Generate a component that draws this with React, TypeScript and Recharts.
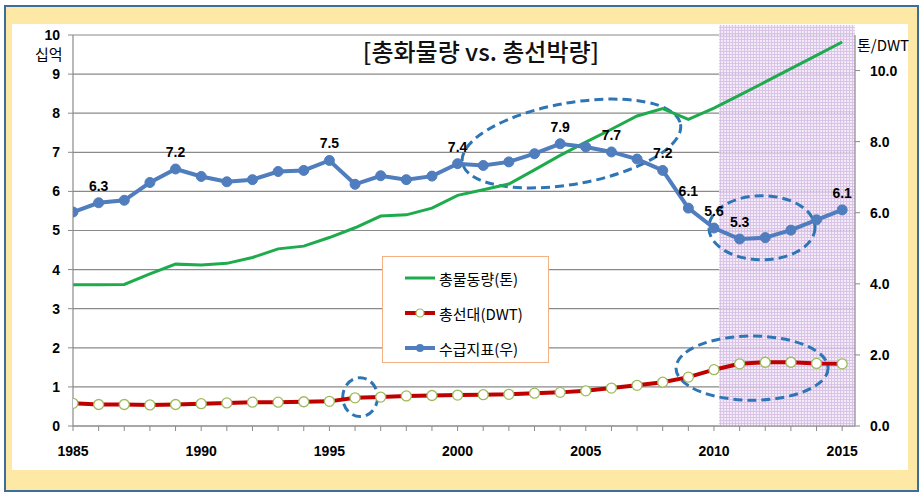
import React from "react";
import {
  ComposedChart,
  Line,
  XAxis,
  YAxis,
  CartesianGrid,
  ReferenceArea,
  LabelList,
} from "recharts";

// categories
const years = [
  1985, 1986, 1987, 1988, 1989, 1990, 1991, 1992, 1993, 1994, 1995, 1996, 1997, 1998, 1999, 2000,
  2001, 2002, 2003, 2004, 2005, 2006, 2007, 2008, 2009, 2010, 2011, 2012, 2013, 2014, 2015,
];

// 총물동량 (십억 톤, left axis)
const cargo = [
  3.61, 3.61, 3.62, 3.89, 4.14, 4.12, 4.16, 4.31, 4.53, 4.6, 4.82, 5.07, 5.37, 5.4, 5.57, 5.9,
  6.04, 6.19, 6.55, 6.92, 7.26, 7.59, 7.93, 8.12, 7.84, 8.13, 8.46, 8.8, 9.14, 9.48, 9.82,
];

// 총선대 (십억 DWT, left axis)
const fleet = [
  0.58, 0.55, 0.55, 0.54, 0.55, 0.57, 0.59, 0.61, 0.61, 0.62, 0.63, 0.72, 0.74, 0.77, 0.78, 0.79,
  0.8, 0.81, 0.84, 0.86, 0.9, 0.97, 1.04, 1.12, 1.25, 1.44, 1.59, 1.63, 1.63, 1.6, 1.59,
];

// 수급지표 (톤/DWT, right axis)
const ratio = [
  6.02, 6.28, 6.35, 6.85, 7.23, 7.02, 6.87, 6.93, 7.16, 7.19, 7.47, 6.8, 7.04, 6.93, 7.03, 7.38,
  7.33, 7.43, 7.66, 7.94, 7.85, 7.71, 7.51, 7.19, 6.13, 5.57, 5.26, 5.3, 5.51, 5.8, 6.08,
];

const labeledYears = [1986, 1989, 1995, 2000, 2004, 2006, 2008, 2009, 2010, 2011, 2015];

const leftTicks = [0, 1, 2, 3, 4, 5, 6, 7, 8, 9, 10];
const rightTicks = [0, 2, 4, 6, 8, 10];

const series = [
  { key: "cargo", name: "총물동량(톤)", color: "#1EAB4D", marker: "none" },
  { key: "fleet", name: "총선대(DWT)", color: "#C00000", marker: "open" },
  { key: "ratio", name: "수급지표(우)", color: "#4F7DBD", marker: "filled" },
];

// forecast shading and dashed ovals, in data units
const forecastFrom = 2010.2;
const forecastTo = 2015.5;
const ovals = [
  { x1: 2000.12, x2: 2008.76, y1: 6.185, y2: 8.265, angle: -10 },
  { x1: 1995.52, x2: 1996.88, y1: 0.24, y2: 1.235, angle: 0 },
  { x1: 2009.8, x2: 2013.94, y1: 4.25, y2: 5.89, angle: 0 },
  { x1: 2008.52, x2: 2014.45, y1: 0.66, y2: 2.3, angle: 0 },
];

const data = years.map((year, i) => ({
  year,
  cargo: cargo[i],
  fleet: fleet[i],
  ratio: ratio[i],
}));

const tickFont = { fontFamily: "'Liberation Sans', Arial, sans-serif", fontSize: 14, fontWeight: 700, fill: "#000" };
const krFont = "'Noto Sans CJK KR', 'Noto Sans', sans-serif";

const ShadeShape = (props: any) => {
  const { x, y, width, height } = props;
  return (
    <g>
      <defs>
        <pattern id="dots" width="3" height="3" patternUnits="userSpaceOnUse">
          <rect width="3" height="3" fill="#F1E7F6" />
          <rect width="3" height="1" fill="#D2B8E1" />
          <rect width="1" height="3" fill="#D2B8E1" />
        </pattern>
      </defs>
      <rect x={x} y={y - 10} width={width} height={height + 10} fill="url(#dots)" opacity={0.85} />
    </g>
  );
};

const makeOval = (angle: number) => (props: any) => {
  const { x, y, width, height } = props;
  const cx = x + width / 2;
  const cy = y + height / 2;
  return (
    <ellipse
      cx={cx}
      cy={cy}
      rx={width / 2}
      ry={height / 2}
      fill="none"
      stroke="#2E75B6"
      strokeWidth={3}
      strokeDasharray="9 5"
      transform={`rotate(${angle} ${cx} ${cy})`}
    />
  );
};

const RatioLabel = (props: any) => {
  const { x, y, index } = props;
  if (!labeledYears.includes(years[index])) return null;
  return (
    <text x={x} y={y - 12} textAnchor="middle" {...tickFont}>
      {ratio[index].toFixed(1)}
    </text>
  );
};

function LegendBox() {
  return (
    <div
      style={{
        position: "absolute",
        left: 382,
        top: 256,
        width: 165,
        height: 105,
        border: "1px solid #F4B183",
        background: "#fff",
        fontFamily: krFont,
        fontSize: 15,
        color: "#000",
      }}
    >
      {series.map((s, i) => (
        <div
          key={s.key}
          style={{ position: "absolute", left: 22, top: 10 + i * 35, height: 22, display: "flex", alignItems: "center" }}
        >
          <svg width={32} height={12}>
            <line x1={0} y1={6} x2={30} y2={6} stroke={s.color} strokeWidth={s.key === "cargo" ? 3 : 4} />
            {s.marker === "open" && <circle cx={15} cy={6} r={4} fill="#fff" stroke="#9BBB59" strokeWidth={1.2} />}
            {s.marker === "filled" && <circle cx={15} cy={6} r={4} fill={s.color} />}
          </svg>
          <span style={{ marginLeft: 2 }}>{s.name}</span>
        </div>
      ))}
    </div>
  );
}

export default function App() {
  return (
    <div style={{ position: "relative", width: 922, height: 499, background: "#fff", overflow: "hidden" }}>
      <style>{`body{margin:0}`}</style>
      <div
        style={{
          position: "absolute",
          left: 4,
          top: 5,
          width: 911,
          height: 483,
          border: "2px solid #3D6E9B",
          background: "#FDE8A6",
        }}
      />
      <div style={{ position: "absolute", left: 12, top: 24, width: 896, height: 446, background: "#fff" }} />
      <div style={{ position: "absolute", left: 0, top: 0 }}>
        <ComposedChart
          width={922}
          height={499}
          data={data}
          margin={{ top: 35, right: 17, bottom: 43, left: 13 }}
        >
          <CartesianGrid yAxisId="L" vertical={false} stroke="#8A8A8A" strokeWidth={1.2} />
          <ReferenceArea
            yAxisId="L"
            x1={forecastFrom}
            x2={forecastTo}
            y1={0}
            y2={10}
            shape={ShadeShape}
            ifOverflow="visible"
          />
          <XAxis
            dataKey="year"
            type="number"
            domain={[1985, forecastTo]}
            ticks={years}
            interval={0}
            tickFormatter={(v: number) => (v % 5 === 0 ? String(v) : "")}
            tick={tickFont}
            tickSize={5}
            tickMargin={15}
            height={30}
            axisLine={{ stroke: "#8A8A8A", strokeWidth: 1.2 }}
            tickLine={{ stroke: "#8A8A8A" }}
            allowDataOverflow
          />
          <YAxis
            yAxisId="L"
            domain={[0, 10]}
            ticks={leftTicks}
            interval={0}
            tick={tickFont}
            width={60}
            tickSize={5}
            tickMargin={8}
            axisLine={{ stroke: "#8A8A8A", strokeWidth: 1.2 }}
            tickLine={{ stroke: "#8A8A8A" }}
          />
          <YAxis
            yAxisId="R"
            orientation="right"
            domain={[0, 11]}
            ticks={rightTicks}
            interval={0}
            tickFormatter={(v: number) => v.toFixed(1)}
            tick={tickFont}
            width={50}
            tickSize={5}
            tickMargin={10}
            axisLine={{ stroke: "#8A8A8A", strokeWidth: 1.2 }}
            tickLine={{ stroke: "#8A8A8A" }}
          />
          <Line
            yAxisId="L"
            dataKey="cargo"
            name={series[0].name}
            stroke={series[0].color}
            strokeWidth={3}
            dot={false}
            activeDot={false}
            isAnimationActive={false}
          />
          <Line
            yAxisId="L"
            dataKey="fleet"
            name={series[1].name}
            stroke={series[1].color}
            strokeWidth={4}
            dot={{ r: 5, fill: "#fff", stroke: "#9BBB59", strokeWidth: 1.3 }}
            activeDot={false}
            isAnimationActive={false}
          />
          <Line
            yAxisId="R"
            dataKey="ratio"
            name={series[2].name}
            stroke={series[2].color}
            strokeWidth={4}
            dot={{ r: 5, fill: series[2].color, stroke: series[2].color, strokeWidth: 1 }}
            activeDot={false}
            isAnimationActive={false}
          >
            <LabelList dataKey="ratio" content={RatioLabel} />
          </Line>
          {ovals.map((o, i) => (
            <ReferenceArea
              key={i}
              yAxisId="L"
              x1={o.x1}
              x2={o.x2}
              y1={o.y1}
              y2={o.y2}
              shape={makeOval(o.angle)}
              ifOverflow="visible"
            />
          ))}
        </ComposedChart>
      </div>
      <div
        style={{
          position: "absolute",
          left: 0,
          width: 962,
          top: 33,
          textAlign: "center",
          fontFamily: krFont,
          fontSize: 24,
          fontWeight: 500,
          color: "#111",
          whiteSpace: "nowrap",
        }}
      >
        [총화물량 vs. 총선박량]
      </div>
      <div style={{ position: "absolute", left: 35, top: 43, fontFamily: krFont, fontSize: 15, color: "#000" }}>십억</div>
      <div style={{ position: "absolute", left: 857, top: 34, fontFamily: krFont, fontSize: 15, color: "#000" }}>톤/DWT</div>
      <LegendBox />
    </div>
  );
}
